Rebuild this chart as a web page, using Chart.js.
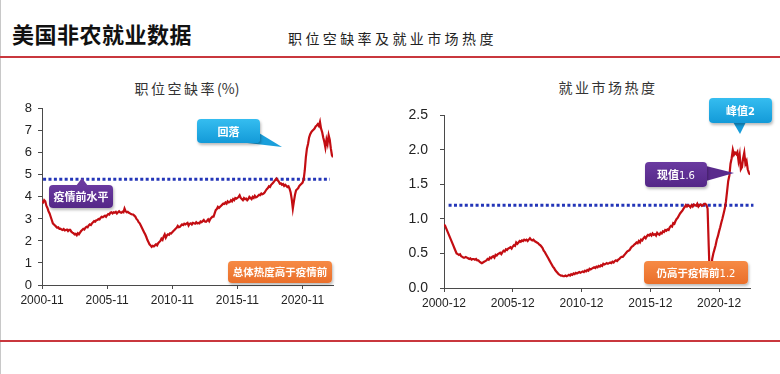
<!DOCTYPE html>
<html>
<head>
<meta charset="utf-8">
<script src="https://cdn.jsdelivr.net/npm/chart.js@4/dist/chart.umd.min.js"></script>
<style>
  html, body { margin: 0; padding: 0; background: #fff; }
  body { width: 780px; height: 374px; position: relative; overflow: hidden; font-family: "Noto Sans CJK SC", sans-serif; }
  .abs { position: absolute; }
  .edge { left: 0; top: 0; width: 1px; height: 374px; background: #c8c8c8; }
  .rule { left: 0; width: 780px; height: 2px; background: #c9373d; }
  .head { left: 12px; top: 19px; font-size: 22px; font-weight: 700; color: #111; letter-spacing: 0.5px; line-height: 28px; }
  .sub { left: 288px; top: 28px; font-size: 14px; color: #222; letter-spacing: 3.4px; line-height: 20px; }
  .ctitle { font-size: 14px; color: #333; line-height: 20px; text-align: center; }
  .ctitle .cj { letter-spacing: 2.5px; }
  .tag { color: #fff; font-weight: 700; font-size: 11px; text-align: center; border-radius: 4px;
         box-shadow: 1px 2px 3px rgba(0,0,0,0.28); box-sizing: border-box; }
  .blue { background: linear-gradient(#35bdf0, #139ad8); }
  .purple { background: linear-gradient(#6a3aa0, #542787); }
  .orange { background: linear-gradient(#f68a45, #ea6f2a); }
  .num { font-weight: 400; font-family: "DejaVu Sans", sans-serif; font-size: 10px; }
  canvas { position: absolute; }
  svg { position: absolute; left: 0; top: 0; }
</style>
</head>
<body>
<div class="abs edge"></div>
<div class="abs head">美国非农就业数据</div>
<div class="abs sub">职位空缺率及就业市场热度</div>
<div class="abs rule" style="top:56px"></div>
<div class="abs rule" style="top:340px"></div>

<div class="abs ctitle" style="left:87px; top:78px; width:200px;"><span class="cj">职位空缺率</span>(%)</div>
<div class="abs ctitle" style="left:508px; top:77px; width:200px;"><span class="cj">就业市场热度</span></div>

<canvas id="left" width="370" height="225" style="left:0; top:95px;"></canvas>
<canvas id="right" width="390" height="225" style="left:390px; top:95px;"></canvas>

<svg width="780" height="374">
  <polygon points="238,142 259,133 282,147" fill="#1a9fdb"/>
  <polygon points="76,186 88,186 82,178" fill="#6a3aa0"/>
  <polygon points="733,122 746,122 740,134" fill="#169cd9"/>
  <polygon points="706,166 706,181 734,173" fill="#5a2b8c"/>
</svg>

<div class="abs tag blue" style="left:197px; top:119px; width:63px; height:24px; line-height:24px;">回落</div>
<div class="abs tag purple" style="left:49px; top:185px; width:64px; height:23px; line-height:23px;">疫情前水平</div>
<div class="abs tag orange" style="left:228px; top:261px; width:104px; height:22px; line-height:22px; font-size:10.5px;">总体热度高于疫情前</div>
<div class="abs tag blue" style="left:709px; top:98px; width:63px; height:25px; line-height:25px;">峰值<span class="num" style="font-weight:700">2</span></div>
<div class="abs tag purple" style="left:645px; top:162px; width:62px; height:25px; line-height:25px;">现值<span class="num">1.6</span></div>
<div class="abs tag orange" style="left:644px; top:261px; width:104px; height:23px; line-height:23px; font-size:10.5px;">仍高于疫情前<span class="num">1.2</span></div>

<script>
// 职位空缺率(%)，月度，2000-11 起
const vacancyStart = '2000-11';
const vacancyRate = [
  3.8, 3.75, 3.85, 3.8, 3.6, 3.5, 3.35, 3.25, 3.1, 2.95, 2.8, 2.75,
  2.7, 2.65, 2.6, 2.62, 2.55, 2.56, 2.52, 2.5, 2.54, 2.48, 2.5, 2.52,
  2.45, 2.5, 2.5, 2.42, 2.38, 2.35, 2.3, 2.32, 2.26, 2.35, 2.3, 2.38,
  2.45, 2.5, 2.55, 2.52, 2.6, 2.64, 2.62, 2.7, 2.75, 2.72, 2.8, 2.85,
  2.9, 2.88, 2.94, 2.95, 3.0, 2.98, 3.05, 3.1, 3.08, 3.12, 3.15, 3.1,
  3.17, 3.22, 3.2, 3.28, 3.3, 3.25, 3.3, 3.28, 3.32, 3.25, 3.3, 3.35,
  3.3, 3.28, 3.32, 3.3, 3.47, 3.35, 3.3, 3.32, 3.28, 3.25, 3.22, 3.2,
  3.2, 3.15, 3.1, 3.0, 2.95, 2.85, 2.8, 2.7, 2.6, 2.5, 2.4, 2.3,
  2.19, 2.05, 1.95, 1.85, 1.8, 1.73, 1.78, 1.75, 1.8, 1.85, 1.8, 1.9,
  1.95, 2.0, 2.1, 2.05, 2.2, 2.3, 2.15, 2.25, 2.3, 2.28, 2.35, 2.34,
  2.4, 2.45, 2.5, 2.55, 2.6, 2.68, 2.62, 2.64, 2.7, 2.75, 2.72, 2.78,
  2.75, 2.79, 2.82, 2.7, 2.78, 2.8, 2.75, 2.82, 2.8, 2.78, 2.85, 2.8,
  2.82, 2.8, 2.88, 2.85, 2.9, 2.95, 2.88, 2.87, 2.92, 2.98, 2.9, 3.0,
  3.05, 3.1, 3.1, 3.25, 3.4, 3.45, 3.55, 3.5, 3.55, 3.6, 3.65, 3.7,
  3.68, 3.75, 3.7, 3.8, 3.75, 3.77, 3.85, 3.8, 3.9, 3.85, 3.95, 3.92,
  3.95, 4.0, 4.07, 3.95, 3.9, 3.85, 3.95, 3.9, 3.92, 3.85, 3.9, 4.0,
  3.95, 3.9, 4.0, 3.95, 4.05, 3.98, 4.0, 4.05, 4.1, 4.08, 4.15, 4.12,
  4.15, 4.2, 4.28, 4.35, 4.4, 4.48, 4.45, 4.55, 4.6, 4.65, 4.72, 4.78,
  4.83, 4.75, 4.7, 4.6, 4.62, 4.55, 4.58, 4.5, 4.55, 4.5, 4.45, 4.48,
  4.37, 4.2, 3.9, 3.47, 3.8, 4.1, 4.3, 4.35, 4.4, 4.5, 4.55, 4.6,
  4.65, 4.8, 5.2, 5.8, 6.2, 6.4, 6.7, 6.85, 6.94, 7.0, 7.05, 7.1,
  7.2, 7.24, 7.3, 7.22, 7.4, 7.1, 6.94, 6.7, 6.5, 6.24, 6.6, 6.4,
  6.8, 6.6, 6.2, 5.9, 5.8
];
const vacancyTicks = ['2000-11', '2005-11', '2010-11', '2015-11', '2020-11'];
const vacancyPre = 4.8;

// 就业市场热度（职位空缺/失业人数），月度，2000-12 起
const heatStart = '2000-12';
const heatIndex = [
  0.92, 0.9, 0.86, 0.82, 0.78, 0.74, 0.7, 0.66, 0.62, 0.58, 0.54, 0.5,
  0.49, 0.48, 0.49, 0.46, 0.45, 0.44, 0.44, 0.45, 0.44, 0.43, 0.42, 0.43,
  0.41, 0.42, 0.42, 0.41, 0.42, 0.4, 0.4, 0.38, 0.37, 0.36, 0.37, 0.38,
  0.39, 0.4, 0.42, 0.41, 0.44, 0.43, 0.45, 0.46, 0.44, 0.48, 0.47, 0.49,
  0.5, 0.51, 0.49, 0.52, 0.54, 0.53, 0.56, 0.55, 0.57, 0.58, 0.59, 0.57,
  0.6, 0.62, 0.61, 0.66, 0.64, 0.66, 0.68, 0.67, 0.69, 0.68, 0.7, 0.69,
  0.7, 0.68, 0.7, 0.72, 0.7, 0.69, 0.7, 0.68, 0.67, 0.66, 0.65, 0.63,
  0.62, 0.6, 0.58, 0.54, 0.52, 0.49, 0.46, 0.43, 0.4, 0.37, 0.34, 0.31,
  0.29, 0.26, 0.24, 0.22, 0.2, 0.19, 0.18, 0.18, 0.17, 0.17, 0.18, 0.17,
  0.18, 0.19, 0.18, 0.2, 0.19, 0.21, 0.2, 0.22, 0.21, 0.22, 0.23, 0.22,
  0.23, 0.24, 0.23, 0.25, 0.24, 0.26, 0.25, 0.28, 0.27, 0.28, 0.29, 0.3,
  0.29, 0.31, 0.3, 0.32, 0.31, 0.33, 0.32, 0.35, 0.34, 0.35, 0.36, 0.35,
  0.36, 0.37, 0.36, 0.38, 0.37, 0.39, 0.4, 0.39, 0.41, 0.42, 0.44, 0.45,
  0.45, 0.47, 0.49, 0.51, 0.53, 0.54, 0.55, 0.58, 0.6, 0.61, 0.63, 0.64,
  0.66, 0.65, 0.68, 0.66, 0.7, 0.69, 0.72, 0.74, 0.72, 0.75, 0.77, 0.76,
  0.78, 0.76, 0.79, 0.77, 0.78, 0.76, 0.8, 0.78, 0.77, 0.8, 0.79, 0.82,
  0.81, 0.84, 0.83, 0.85, 0.84, 0.88, 0.9, 0.89, 0.94, 0.93, 0.97, 1.0,
  1.02, 1.05, 1.08, 1.1, 1.12, 1.15, 1.17, 1.2, 1.18, 1.2, 1.19, 1.17,
  1.2, 1.18, 1.21, 1.2, 1.19, 1.22, 1.18, 1.2, 1.21, 1.19, 1.2, 1.22,
  1.22, 1.2, 1.15, 0.6, 0.1, 0.2, 0.42, 0.5, 0.56, 0.62, 0.7, 0.75,
  0.82, 0.88, 0.95, 1.01, 1.08, 1.15, 1.25, 1.4, 1.55, 1.63, 1.8, 1.88,
  2.0, 1.93, 1.96, 1.94, 1.97, 1.84, 1.93, 1.72, 1.75, 1.88, 1.96, 1.8,
  1.84, 1.72, 1.67, 1.64
];
const heatTicks = ['2000-12', '2005-12', '2010-12', '2015-12', '2020-12'];
const heatPre = 1.2;

const AXIS = '#4a4a4a';
const LINE_RED = '#c30d12';
const DOT_BLUE = '#2436b8';

// 虚线：疫情前水平
const refLine = {
  id: 'refLine',
  beforeDatasetsDraw(chart, args, opts) {
    const { ctx, scales: { x, y } } = chart;
    const py = y.getPixelForValue(opts.value);
    ctx.save();
    ctx.strokeStyle = DOT_BLUE;
    ctx.lineWidth = 3;
    ctx.setLineDash([3, 2.4]);
    ctx.beginPath();
    ctx.moveTo(x.getPixelForValue(opts.from), py);
    ctx.lineTo(x.getPixelForValue(opts.to), py);
    ctx.stroke();
    ctx.restore();
  }
};

function makeChart(id, values, tickLabels, cfg) {
  const tickStep = 60;
  new Chart(document.getElementById(id), {
    type: 'line',
    data: {
      datasets: [{
        data: values.map((v, i) => ({ x: i, y: v })),
        borderColor: LINE_RED,
        borderWidth: 2.2,
        pointRadius: 0,
        tension: 0
      }]
    },
    options: {
      responsive: false,
      animation: false,
      devicePixelRatio: 1,
      layout: { padding: cfg.padding },
      plugins: {
        legend: { display: false },
        tooltip: { enabled: false },
        refLine: { value: cfg.pre, from: cfg.dotFrom, to: cfg.dotTo }
      },
      scales: {
        x: {
          type: 'linear',
          min: 0,
          max: values.length - 1,
          afterBuildTicks: s => { s.ticks = tickLabels.map((t, i) => ({ value: i * tickStep })); },
          afterFit: s => { s.height = cfg.xHeight; },
          ticks: {
            autoSkip: false, maxRotation: 0, minRotation: 0, padding: 4,
            color: '#222', font: { family: 'Liberation Sans, Arial', size: 12 },
            callback: v => tickLabels[Math.round(v / tickStep)]
          },
          grid: { drawOnChartArea: false, tickLength: 4, color: AXIS },
          border: { color: AXIS, width: 1 }
        },
        y: {
          min: 0,
          max: cfg.yMax,
          afterBuildTicks: s => { s.ticks = cfg.yTicks.map(v => ({ value: v })); },
          afterFit: s => { s.width = cfg.yWidth; },
          ticks: {
            padding: cfg.yPad,
            color: '#222', font: { family: 'Liberation Sans, Arial', size: cfg.yFont },
            callback: cfg.yFmt
          },
          grid: { drawOnChartArea: false, tickLength: 4, color: AXIS },
          border: { color: AXIS, width: 1 }
        }
      }
    },
    plugins: [refLine]
  });
}

makeChart('left', vacancyRate, vacancyTicks, {
  padding: { top: 13, right: 37, left: 0, bottom: 0 },
  xHeight: 35, yWidth: 42, yPad: 6, yFont: 13,
  yMax: 8, yTicks: [0, 1, 2, 3, 4, 5, 6, 7, 8], yFmt: v => String(v),
  pre: vacancyPre, dotFrom: 1, dotTo: 265
});

makeChart('right', heatIndex, heatTicks, {
  padding: { top: 17, right: 30, left: 0, bottom: 0 },
  xHeight: 32, yWidth: 54, yPad: 12, yFont: 14,
  yMax: 2.5, yTicks: [0, 0.5, 1, 1.5, 2, 2.5], yFmt: v => v.toFixed(1),
  pre: heatPre, dotFrom: 4, dotTo: 270
});
</script>
</body>
</html>
